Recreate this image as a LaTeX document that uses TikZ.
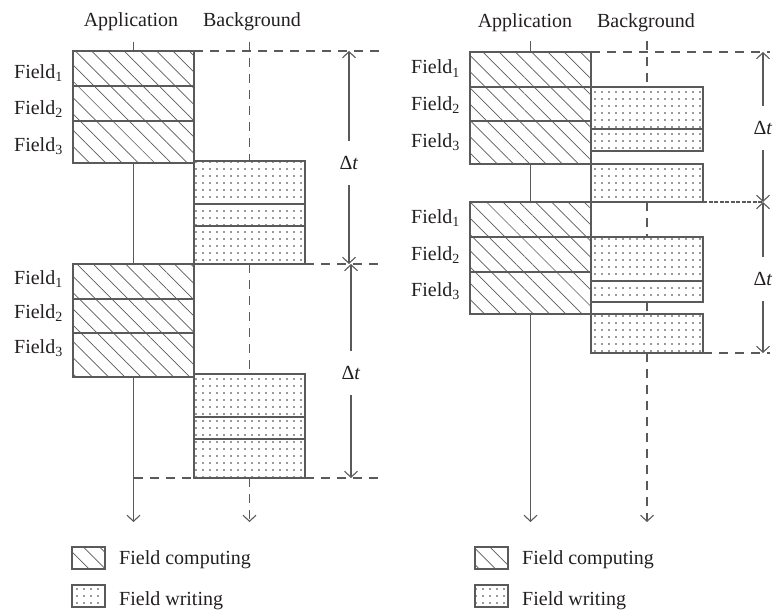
\documentclass[tikz,border=0pt]{standalone}
\usepackage{fontspec}
\setmainfont{Liberation Serif}
\usetikzlibrary{patterns.meta,arrows.meta,calc}
\definecolor{lg}{HTML}{5A5A5A}
\definecolor{tx}{HTML}{231F20}
\begin{document}
\begin{tikzpicture}[x=1pt,y=-1pt,
  comp/.style={rectangle, draw=lg, line width=1.1pt, inner sep=0pt, outer sep=0pt, anchor=north west,
    pattern={Lines[angle=-45,distance=11.5pt,line width=0.7pt]}, pattern color=lg},
  wri/.style={rectangle, draw=lg, line width=1.1pt, inner sep=0pt, outer sep=0pt, anchor=north west,
    pattern={Dots[angle=0,distance=7pt,radius=0.85pt]}, pattern color=black!80},
  txt/.style={font=\fontsize{20}{24}\selectfont, text=tx, inner sep=0pt},
  fld/.style={txt, anchor=base east},
  dtl/.style={txt, minimum height=44pt},
  ln/.style={draw=lg, line width=1.1pt},
  dsh/.style={draw=lg, line width=1.1pt, dash pattern=on 9pt off 7pt},
  dense/.style={draw=lg, line width=1.1pt, dash pattern=on 4pt off 1.5pt},
  >={Straight Barb[length=6pt,width=13pt]}
]
\useasboundingbox (0,0) rectangle (775,610);
\coordinate (topL) at (0,42);
\coordinate (topR) at (0,41);
\coordinate (bot) at (0,522);
\coordinate (eL) at (385,0);
\coordinate (eR) at (770,0);
\coordinate (eR2) at (762,0);

% headers
\node[txt, anchor=base] (hA1) at (131,27) {Application};
\node[txt, anchor=base] (hB1) at (252,27) {Background};
\node[txt, anchor=base] (hA2) at (525,28) {Application};
\node[txt, anchor=base] (hB2) at (646,28) {Background};

% ---------------- left diagram ----------------
\node[comp, minimum width=121pt, minimum height=35pt] (L1a) at (73,51) {};
\node[comp, minimum width=121pt, minimum height=35pt] (L1b) at (73,86) {};
\node[comp, minimum width=121pt, minimum height=42pt] (L1c) at (73,121) {};
\node[wri, minimum width=111pt, minimum height=43pt] (LB1a) at (194,161) {};
\node[wri, minimum width=111pt, minimum height=22pt] (LB1b) at (194,204) {};
\node[wri, minimum width=111pt, minimum height=38pt] (LB1c) at (194,226) {};
\node[comp, minimum width=121pt, minimum height=35pt] (L2a) at (73,264) {};
\node[comp, minimum width=121pt, minimum height=34pt] (L2b) at (73,299) {};
\node[comp, minimum width=121pt, minimum height=44pt] (L2c) at (73,333) {};
\node[wri, minimum width=111pt, minimum height=43pt] (LB2a) at (194,374) {};
\node[wri, minimum width=111pt, minimum height=22pt] (LB2b) at (194,417) {};
\node[wri, minimum width=111pt, minimum height=39pt] (LB2c) at (194,439) {};

\node[fld] (fL11) at (63,78) {Field\textsubscript{1}};
\node[fld] (fL12) at (63,114) {Field\textsubscript{2}};
\node[fld] (fL13) at (63,151) {Field\textsubscript{3}};
\node[fld] (fL21) at (63,284) {Field\textsubscript{1}};
\node[fld] (fL22) at (63,318) {Field\textsubscript{2}};
\node[fld] (fL23) at (63,353) {Field\textsubscript{3}};

\draw[ln] (L1a.north |- topL) -- (L1a.north);
\draw[dsh] (LB1a.north |- topL) -- (LB1a.north);
\draw[ln] (L1c.south) -- (L2a.north);
\draw[dsh] (LB1c.south) -- (LB2a.north);
\draw[ln,->] (L2c.south) -- (L2c.south |- bot);
\draw[dsh,->] (LB2c.south) -- (LB2c.south |- bot);

\draw[dsh] (L1a.north east) -- (L1a.north east -| eL);
\draw[dsh] (LB1c.south east) -- (LB1c.south east -| eL);
\draw[dsh] (L2c.south |- LB2c.south) -- (LB2c.south west);
\draw[dsh] (LB2c.south east) -- (LB2c.south east -| eL);

\node[dtl] (dtL1) at (349,163) {Δ\textit{t}};
\draw[ln,->] (dtL1.north) -- (dtL1.north |- L1a.north);
\draw[ln,->] (dtL1.south) -- (dtL1.south |- LB1c.south);
\node[dtl] (dtL2) at (351,373) {Δ\textit{t}};
\draw[ln,->] (dtL2.north) -- (dtL2.north |- L2a.north);
\draw[ln,->] (dtL2.south) -- (dtL2.south |- LB2c.south);

% ---------------- right diagram ----------------
\node[comp, minimum width=121pt, minimum height=35pt] (R1a) at (470,52) {};
\node[comp, minimum width=121pt, minimum height=34pt] (R1b) at (470,87) {};
\node[comp, minimum width=121pt, minimum height=43pt] (R1c) at (470,121) {};
\node[wri, minimum width=112pt, minimum height=42pt] (RB1a) at (591,87) {};
\node[wri, minimum width=112pt, minimum height=22pt] (RB1b) at (591,129) {};
\node[wri, minimum width=112pt, minimum height=38pt] (RB1c) at (591,164) {};
\node[comp, minimum width=121pt, minimum height=35pt] (R2a) at (470,202) {};
\node[comp, minimum width=121pt, minimum height=35pt] (R2b) at (470,237) {};
\node[comp, minimum width=121pt, minimum height=42pt] (R2c) at (470,272) {};
\node[wri, minimum width=112pt, minimum height=44pt] (RB2a) at (591,237) {};
\node[wri, minimum width=112pt, minimum height=21pt] (RB2b) at (591,281) {};
\node[wri, minimum width=112pt, minimum height=39pt] (RB2c) at (591,314) {};

\node[fld] (fR11) at (460,74) {Field\textsubscript{1}};
\node[fld] (fR12) at (460,110) {Field\textsubscript{2}};
\node[fld] (fR13) at (460,147) {Field\textsubscript{3}};
\node[fld] (fR21) at (460,223) {Field\textsubscript{1}};
\node[fld] (fR22) at (460,260) {Field\textsubscript{2}};
\node[fld] (fR23) at (460,296) {Field\textsubscript{3}};

\draw[ln] (R1a.north |- topR) -- (R1a.north);
\draw[dsh] (RB1a.north |- topR) -- (RB1a.north);
\draw[ln] (R1c.south) -- (R2a.north);
\draw[dsh] (RB1c.south) -- (RB2a.north);
\draw[dsh] (RB2b.south) -- (RB2c.north);
\draw[ln,->] (R2c.south) -- (R2c.south |- bot);
\draw[dsh,->] (RB2c.south) -- (RB2c.south |- bot);

\draw[dsh] (R1a.north east) -- (R1a.north east -| eR);
\draw[dense] (RB1c.south east) -- (RB1c.south east -| eR2);
\draw[dsh] (RB2c.south east) -- (RB2c.south east -| eR);

\node[dtl] (dtR1) at (763,128) {Δ\textit{t}};
\draw[ln,->] (dtR1.north) -- (dtR1.north |- R1a.north);
\draw[ln,->] (dtR1.south) -- (dtR1.south |- RB1c.south);
\node[dtl] (dtR2) at (763,279) {Δ\textit{t}};
\draw[ln,->] (dtR2.north) -- (dtR2.north |- R2a.north);
\draw[ln,->] (dtR2.south) -- (dtR2.south |- RB2c.south);

% ---------------- legends ----------------
\node[comp, minimum width=33pt, minimum height=22pt] (lc1) at (72,547) {};
\node[wri, minimum width=33pt, minimum height=22pt] (lw1) at (72,585) {};
\node[txt, anchor=base west] (tc1) at (119,564) {Field computing};
\node[txt, anchor=base west] (tw1) at (119,605) {Field writing};
\node[comp, minimum width=33pt, minimum height=22pt] (lc2) at (475,547) {};
\node[wri, minimum width=33pt, minimum height=22pt] (lw2) at (475,585) {};
\node[txt, anchor=base west] (tc2) at (522,564) {Field computing};
\node[txt, anchor=base west] (tw2) at (522,605) {Field writing};
\end{tikzpicture}
\end{document}
